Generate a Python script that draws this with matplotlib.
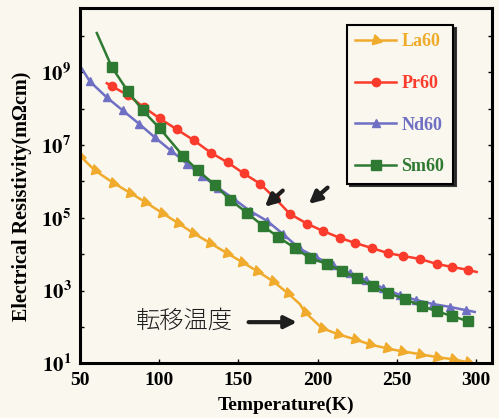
import matplotlib.pyplot as plt
import numpy as np

plt.rcParams['mathtext.fontset'] = 'stix'
plt.rcParams['font.family'] = 'Liberation Serif'

# La60 (log10 of resistivity)
t_la = [50.0, 59.5, 70.8, 81.5, 91.0, 101.7, 111.8, 121.2, 132.0, 142.7, 152.1, 161.6,
        171.7, 181.1, 188.7, 191.9, 202.6, 212.7, 223.4, 232.8, 243.6, 253.0, 264.4,
        275.1, 285.2, 294.6]
lg_la = [6.71, 6.30, 5.97, 5.69, 5.44, 5.14, 4.86, 4.59, 4.31, 4.03, 3.79, 3.54,
         3.26, 2.93, 2.63, 2.41, 1.97, 1.80, 1.66, 1.52, 1.41, 1.33, 1.25,
         1.17, 1.11, 1.03]

# Pr60
t_pr = [67.0, 70.2, 80.3, 90.4, 100.4, 111.2, 121.9, 132.6, 143.3, 153.4, 163.5, 172.9,
        182.4, 193.2, 203.2, 213.9, 223.4, 234.1, 244.2, 253.7, 264.4, 275.1, 284.5,
        294.6, 300.3]
lg_pr = [8.70, 8.62, 8.37, 8.04, 7.73, 7.43, 7.13, 6.79, 6.52, 6.22, 5.94, 5.55,
         5.11, 4.84, 4.64, 4.45, 4.31, 4.17, 4.03, 3.95, 3.87, 3.73, 3.65,
         3.57, 3.51]

# Nd60
t_nd = [50.0, 56.3, 67.0, 77.1, 87.2, 97.3, 107.4, 117.5, 126.9, 137.0, 147.1, 157.2,
        167.9, 178.0, 188.7, 198.8, 209.5, 220.2, 230.3, 241.0, 251.8, 261.9, 272.6,
        283.3, 293.4, 299.1]
lg_nd = [9.19, 8.75, 8.31, 7.95, 7.59, 7.21, 6.85, 6.49, 6.16, 5.83, 5.52, 5.19,
         4.92, 4.56, 4.15, 3.92, 3.70, 3.48, 3.29, 3.07, 2.88, 2.74, 2.63,
         2.55, 2.46, 2.41]

# Sm60
t_sm = [60.7, 70.2, 80.3, 89.7, 100.4, 114.9, 124.4, 135.1, 144.6, 155.3, 165.4, 174.8,
        185.6, 195.0, 205.7, 215.2, 224.7, 234.7, 244.2, 254.9, 265.6, 275.1, 284.5,
        294.6]
lg_sm = [10.08, 9.14, 8.48, 7.95, 7.46, 6.71, 6.30, 5.91, 5.50, 5.14, 4.78, 4.48,
         4.17, 3.90, 3.73, 3.54, 3.35, 3.12, 2.93, 2.77, 2.57, 2.43, 2.30,
         2.16]

c_la = '#f0aa2c'
c_pr = '#fb3b2b'
c_nd = '#6f6fc4'
c_sm = '#2f7a32'

fig = plt.figure(figsize=(4.99, 4.18), dpi=100, facecolor='#f9f7ee')
ax = fig.add_axes([0.160, 0.131, 0.826, 0.850])
ax.set_facecolor('#f9f7ee')

la_marks = [i for i in range(len(t_la)) if i != 14]
ax.plot(t_la, 10 ** np.array(lg_la), color=c_la, lw=1.8, marker=(3, 0, -105), ms=8.5,
        markevery=la_marks, label='La60')
ax.plot(t_pr, 10 ** np.array(lg_pr), color=c_pr, lw=1.8, marker='o', ms=6,
        markevery=slice(1, -1), label='Pr60')
ax.plot(t_nd, 10 ** np.array(lg_nd), color=c_nd, lw=1.8, marker='^', ms=6,
        markevery=slice(1, -1), label='Nd60')
ax.plot(t_sm, 10 ** np.array(lg_sm), color=c_sm, lw=1.8, marker='s', ms=7.5,
        markevery=slice(1, None), label='Sm60')

ax.set_yscale('log')
ax.set_xlim(50, 310)
ax.set_ylim(10, 10 ** 10.77)

ax.set_xticks([50, 100, 150, 200, 250, 300])
ax.set_yticks([10.0 ** k for k in range(1, 11)])
ax.set_yticklabels([r'$\mathbf{10^{%d}}$' % k if k % 2 else '' for k in range(1, 11)])
ax.yaxis.set_minor_locator(plt.NullLocator())
for lab in ax.get_xticklabels():
    lab.set_fontweight('bold')
ax.tick_params(axis='x', direction='in', length=3, width=1, labelsize=14, pad=6)
ax.tick_params(axis='y', direction='in', length=3, width=1, labelsize=15, pad=6,
               right=True)
for s in ax.spines.values():
    s.set_linewidth(2.2)

ax.set_xlabel('Temperature(K)', fontsize=14, fontweight='bold', labelpad=6)
ax.set_ylabel('Electrical Resistivity(m\u03a9cm)', fontsize=14.5, fontweight='bold')
ax.yaxis.set_label_coords(-0.115, 0.47)

# transition markers
arrow = dict(arrowstyle='-|>', color='#1e1e1e', lw=3, mutation_scale=18)
ax.annotate('', xy=(188.7, 10 ** 2.13), xytext=(154.7, 10 ** 2.13), arrowprops=arrow)
ax.annotate('', xy=(165.4, 10 ** 5.25), xytext=(179.3, 10 ** 5.80), arrowprops=arrow)
ax.annotate('', xy=(193.1, 10 ** 5.33), xytext=(207.6, 10 ** 5.88), arrowprops=arrow)
ax.text(116.2, 10 ** 2.16, '転移温度', family=['Noto Sans CJK JP', 'DejaVu Sans'],
        fontsize=17.5, fontweight='light', ha='center', va='center', color='#1e1e1e')

leg = ax.legend(loc='upper right', bbox_to_anchor=(0.905, 0.952), borderaxespad=0,
                fancybox=False, shadow={'color': '#222222', 'alpha': 0.9},
                edgecolor='black', facecolor='#f9f7ee', framealpha=1,
                prop={'weight': 'bold', 'size': 13}, labelspacing=1.36,
                handlelength=2.25, handletextpad=0.3, borderpad=0.47)
leg.get_frame().set_linewidth(1.5)
for txt, c in zip(leg.get_texts(), [c_la, c_pr, c_nd, c_sm]):
    txt.set_color(c)

fig.savefig('out.png', dpi=100, facecolor=fig.get_facecolor())
